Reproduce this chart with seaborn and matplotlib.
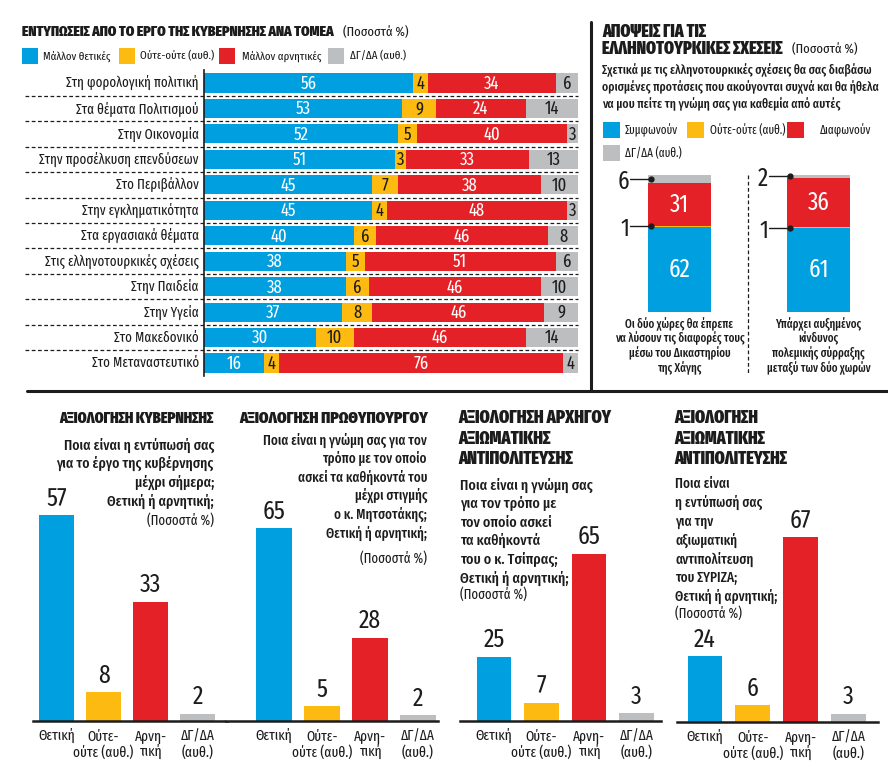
import matplotlib
matplotlib.use('Agg')
import matplotlib.pyplot as plt
import matplotlib.transforms as mtransforms
import seaborn as sns
import numpy as np
import pandas as pd
from matplotlib.patches import Rectangle
from matplotlib.lines import Line2D

# ---------------- data ----------------
sectors = ['Στη φορολογική πολιτική', 'Στα θέματα Πολιτισμού', 'Στην Οικονομία',
           'Στην προσέλκυση επενδύσεων', 'Στο Περιβάλλον', 'Στην εγκληματικότητα',
           'Στα εργασιακά θέματα', 'Στις ελληνοτουρκικές σχέσεις', 'Στην Παιδεία',
           'Στην Υγεία', 'Στο Μακεδονικό', 'Στο Μεταναστευτικό']
positive = [56, 53, 52, 51, 45, 45, 40, 38, 38, 37, 30, 16]
neutral = [4, 9, 5, 3, 7, 4, 6, 5, 6, 8, 10, 4]
negative = [34, 24, 40, 33, 38, 48, 46, 51, 46, 46, 46, 76]
dkna = [6, 14, 3, 13, 10, 3, 8, 6, 10, 9, 14, 4]
sector_legend = ['Μάλλον θετικές', 'Ούτε-ούτε (αυθ.)', 'Μάλλον αρνητικές', 'ΔΓ/ΔΑ (αυθ.)']

gt_statements = ['Οι δύο χώρες θα έπρεπε\nνα λύσουν τις διαφορές τους\nμέσω του Δικαστηρίου\nτης Χάγης',
                 'Υπάρχει αυξημένος\nκίνδυνος\nπολεμικής σύρραξης\nμεταξύ των δύο χωρών']
gt_agree = [62, 61]
gt_neutral = [1, 1]
gt_disagree = [31, 36]
gt_dkna = [6, 2]
gt_legend = ['Συμφωνούν', 'Ούτε-ούτε (αυθ.)', 'Διαφωνούν', 'ΔΓ/ΔΑ (αυθ.)']

eval_cats = ['Θετική', 'Ούτε-\nούτε (αυθ.)', 'Αρνη-\nτική', 'ΔΓ/ΔΑ\n(αυθ.)']
gov_eval = [57, 8, 33, 2]
pm_eval = [65, 5, 28, 2]
leader_eval = [25, 7, 65, 3]
opp_eval = [24, 6, 67, 3]

# ---------------- style ----------------
BLUE, YEL, RED, GREY = '#009FDF', '#FDBB11', '#E42127', '#BDBEC0'
INK = '#1c1c1c'
sns.set_theme(style='white')
FAM = ['Fira Sans Extra Condensed', 'DejaVu Sans']
plt.rcParams['font.family'] = FAM
plt.rcParams['text.color'] = INK
TW = 'black'   # title weight
QW = 'medium'  # question weight

W, H = 888, 773
fig = plt.figure(figsize=(W / 100, H / 100), dpi=100)
fig.patch.set_facecolor('white')


def FX(x):
    return x / W


def FY(y):
    return 1 - y / H


def add_ax(x0, y0, x1, y1):
    return fig.add_axes([FX(x0), FY(y1), (x1 - x0) / W, (y1 - y0) / H])


def ftext(x, y, s, **kw):
    kw.setdefault('va', 'center')
    return fig.text(FX(x), FY(y), s, **kw)


def lines(x, y0, dy, s, **kw):
    for k, ln in enumerate(s.split('\n')):
        ftext(x, y0 + k * dy, ln, **kw)


def square(x, y, w, h, color):
    fig.patches.append(Rectangle((FX(x), FY(y + h)), w / W, h / H, transform=fig.transFigure,
                                 facecolor=color, edgecolor='none'))


def fline(xs, ys, **kw):
    fig.lines.append(Line2D([FX(v) for v in xs], [FY(v) for v in ys], transform=fig.transFigure, **kw))


# ---------------- separators ----------------
fline([591, 591], [22, 391], color=INK, lw=2.2)
fline([27, 888], [391, 391], color=INK, lw=2.2)

# ---------------- top-left: sectors ----------------
ftext(22, 32, 'ΕΝΤΥΠΩΣΕΙΣ ΑΠΟ ΤΟ ΕΡΓΟ ΤΗΣ ΚΥΒΕΡΝΗΣΗΣ ΑΝΑ ΤΟΜΕΑ', fontsize=10.7, fontweight=TW, ha='left')
ftext(343, 32, '(Ποσοστά %)', fontsize=9.8, ha='left')
for (sx, tx), lab, col in zip([(22, 43), (119, 140), (219, 242), (328, 350)], sector_legend,
                              [BLUE, YEL, RED, GREY]):
    square(sx, 48, 16, 16, col)
    ftext(tx, 56, lab, fontsize=8.5, ha='left')

ax1 = add_ax(204, 70.3, 578, 375.7)
df1 = pd.DataFrame({'sector': sectors, 'pos': positive, 'neu': neutral, 'neg': negative, 'dk': dkna})
df1['c1'] = df1['pos']
df1['c2'] = df1['c1'] + df1['neu']
df1['c3'] = df1['c2'] + df1['neg']
df1['c4'] = df1['c3'] + df1['dk']
for col, color in [('c4', GREY), ('c3', RED), ('c2', YEL), ('c1', BLUE)]:
    sns.barplot(data=df1, x=col, y='sector', orient='h', color=color, saturation=1,
                width=0.75, errorbar=None, linewidth=0, ax=ax1)
ax1.set_xlim(0, 100)
ax1.set_ylim(11.5, -0.5)
ax1.set_xticks([])
ax1.set_yticks([])
ax1.set_xlabel('')
ax1.set_ylabel('')
for s in ['top', 'right', 'bottom']:
    ax1.spines[s].set_visible(False)
ax1.spines['left'].set_color(INK)
ax1.spines['left'].set_linewidth(1.2)
x_dash0 = (25 - 204) / 374 * 100
for i, row in df1.iterrows():
    ax1.text(-1.4, i, row['sector'], ha='right', va='center', fontsize=10.2, clip_on=False)
    left = 0
    for v, tc in zip([row['pos'], row['neu'], row['neg'], row['dk']], ['white', INK, 'white', INK]):
        ax1.text(left + v / 2, i + 0.03, str(v), ha='center', va='center', color=tc, fontsize=13)
        left += v
    if i < len(df1) - 1:
        ax1.plot([x_dash0, 100], [i + 0.5, i + 0.5], color=INK, lw=0.9, dashes=(3, 2), clip_on=False)

# ---------------- top-right: greek-turkish ----------------
lines(602, 32, 16.5, 'ΑΠΟΨΕΙΣ ΓΙΑ ΤΙΣ\nΕΛΛΗΝΟΤΟΥΡΚΙΚΕΣ ΣΧΕΣΕΙΣ', fontsize=12.4, fontweight=TW, ha='left')
ftext(792, 49, '(Ποσοστά %)', fontsize=9.8, ha='left')
lines(602, 70, 17.3, 'Σχετικά με τις ελληνοτουρκικές σχέσεις θα σας διαβάσω\n'
      'ορισμένες προτάσεις που ακούγονται συχνά και θα ήθελα\n'
      'να μου πείτε τη γνώμη σας για καθεμία από αυτές', fontsize=9.2, fontweight=QW, ha='left')
for (sx, sy, tx), lab, col in zip([(603, 122, 625), (687, 122, 710), (787, 122, 820), (603, 145, 625)],
                                  gt_legend, [BLUE, YEL, RED, GREY]):
    square(sx, sy, 17, 16, col)
    ftext(tx, sy + 8, lab, fontsize=8.7, ha='left')

ax2 = add_ax(610, 175, 888, 312)
df2 = pd.DataFrame({'stmt': ['a', 'b'], 'agree': gt_agree, 'neu': gt_neutral,
                    'dis': gt_disagree, 'dk': gt_dkna})
df2['c1'] = df2['agree']
df2['c2'] = df2['c1'] + df2['neu']
df2['c3'] = df2['c2'] + df2['dis']
df2['c4'] = df2['c3'] + df2['dk']
BW = 0.455
for col, color in [('c4', GREY), ('c3', RED), ('c2', YEL), ('c1', BLUE)]:
    sns.barplot(data=df2, x='stmt', y=col, color=color, saturation=1, width=BW,
                errorbar=None, linewidth=0, ax=ax2)
ax2.set_ylim(0, 100)
ax2.set_xlim(-0.5, 1.5)
ax2.set_xticks([])
ax2.set_yticks([])
ax2.set_xlabel('')
ax2.set_ylabel('')
for s in ax2.spines.values():
    s.set_visible(False)
blend = mtransforms.blended_transform_factory(ax2.transData, fig.transFigure)
for i, row in df2.iterrows():
    ax2.text(i, row['agree'] / 2, str(row['agree']), ha='center', va='center', color='white', fontsize=18)
    ax2.text(i, row['c2'] + row['dis'] / 2, str(row['dis']), ha='center', va='center', color='white', fontsize=18)
    left = i - BW / 2
    for ymid, v in [(row['c3'] + row['dk'] / 2, row['dk']), (row['agree'] + row['neu'] / 2, row['neu'])]:
        ax2.plot([left - 0.128, left + 0.022], [ymid, ymid], color=INK, lw=1, clip_on=False)
        ax2.plot([left + 0.022], [ymid], 'o', color=INK, ms=3.5, clip_on=False)
        ax2.text(left - 0.135, ymid - 2, str(v), ha='right', va='center', fontsize=18, clip_on=False)
    for k, ln in enumerate(gt_statements[i].split('\n')):
        ax2.text(i, FY(324 + k * 14.6), ln, transform=blend, ha='center', va='center',
                 fontsize=8.6, fontweight=QW, clip_on=False)
fline([748, 748], [175, 374], color=INK, lw=0.9, dashes=(3, 2))

# ---------------- bottom panels ----------------
panels = [
    dict(vals=gov_eval, c0=56.5, p=47, x0=33, x1=227, base=721, top=80.6),
    dict(vals=pm_eval, c0=274, p=48, x0=226, x1=438, base=721, top=98),
    dict(vals=leader_eval, c0=494, p=47.5, x0=460, x1=661, base=721, top=113),
    dict(vals=opp_eval, c0=705, p=47.8, x0=677, x1=878, base=722, top=106),
]
for pn in panels:
    ax = add_ax(pn['x0'], 430, pn['x1'], pn['base'])
    dfp = pd.DataFrame({'cat': eval_cats, 'val': pn['vals']})
    sns.barplot(data=dfp, x='cat', y='val', hue='cat', palette=[BLUE, YEL, RED, GREY], legend=False,
                saturation=1, width=0.73, errorbar=None, linewidth=0, ax=ax)
    ax.set_xlim((pn['x0'] - pn['c0']) / pn['p'], (pn['x1'] - pn['c0']) / pn['p'])
    ax.set_ylim(0, pn['top'])
    ax.set_xticks([])
    ax.set_yticks([])
    ax.set_xlabel('')
    ax.set_ylabel('')
    for s in ['top', 'right', 'left']:
        ax.spines[s].set_visible(False)
    ax.spines['bottom'].set_color(INK)
    ax.spines['bottom'].set_linewidth(1.8)
    for i, v in enumerate(pn['vals']):
        ax.annotate(str(v), (i, v), xytext=(0, 3), textcoords='offset points', ha='center',
                    va='bottom', fontsize=18.5, annotation_clip=False)
        ax.annotate(eval_cats[i], (i, 0), xytext=(0, -6), textcoords='offset points', ha='center',
                    va='top', fontsize=10.5, linespacing=1.1, annotation_clip=False)

# panel texts
ftext(214, 418, 'ΑΞΙΟΛΟΓΗΣΗ ΚΥΒΕΡΝΗΣΗΣ', fontsize=11.2, fontweight=TW, ha='right')
lines(214, 445, 18.7, 'Ποια είναι η εντύπωσή σας\nγια το έργο της κυβέρνησης\nμέχρι σήμερα;\nΘετική ή αρνητική;',
      fontsize=10.8, fontweight=QW, ha='right')
ftext(214, 520, '(Ποσοστά %)', fontsize=10, ha='right')

ftext(428, 418, 'ΑΞΙΟΛΟΓΗΣΗ ΠΡΩΘΥΠΟΥΡΓΟΥ', fontsize=11.9, fontweight=TW, ha='right')
lines(427, 440, 18.6, 'Ποια είναι η γνώμη σας για τον\nτρόπο με τον οποίο\nασκεί τα καθήκοντά του\n'
      'μέχρι στιγμής\nο κ. Μητσοτάκης;\nΘετική ή αρνητική;', fontsize=10.2, fontweight=QW, ha='right')
ftext(427, 558, '(Ποσοστά %)', fontsize=10, ha='right')

lines(458, 418, 20.5, 'ΑΞΙΟΛΟΓΗΣΗ ΑΡΧΗΓΟΥ\nΑΞΙΩΜΑΤΙΚΗΣ\nΑΝΤΙΠΟΛΙΤΕΥΣΗΣ', fontsize=12.8, fontweight=TW, ha='left')
lines(460, 485, 18.6, 'Ποια είναι η γνώμη σας\nγια τον τρόπο με\nτον οποίο ασκεί\nτα καθήκοντά\n'
      'του ο κ. Τσίπρας;\nΘετική ή αρνητική;', fontsize=11, fontweight=QW, ha='left')
ftext(460, 594, '(Ποσοστά %)', fontsize=10, ha='left')

lines(674, 418, 20.5, 'ΑΞΙΟΛΟΓΗΣΗ\nΑΞΙΩΜΑΤΙΚΗΣ\nΑΝΤΙΠΟΛΙΤΕΥΣΗΣ', fontsize=12.6, fontweight=TW, ha='left')
lines(675, 484, 18.8, 'Ποια είναι\nη εντύπωσή σας\nγια την\nαξιωματική\nαντιπολίτευση\n'
      'του ΣΥΡΙΖΑ;\nΘετική ή αρνητική;', fontsize=10.3, fontweight=QW, ha='left')
ftext(675, 613, '(Ποσοστά %)', fontsize=10, ha='left')

fig.savefig('out.png', dpi=100, facecolor='white')
